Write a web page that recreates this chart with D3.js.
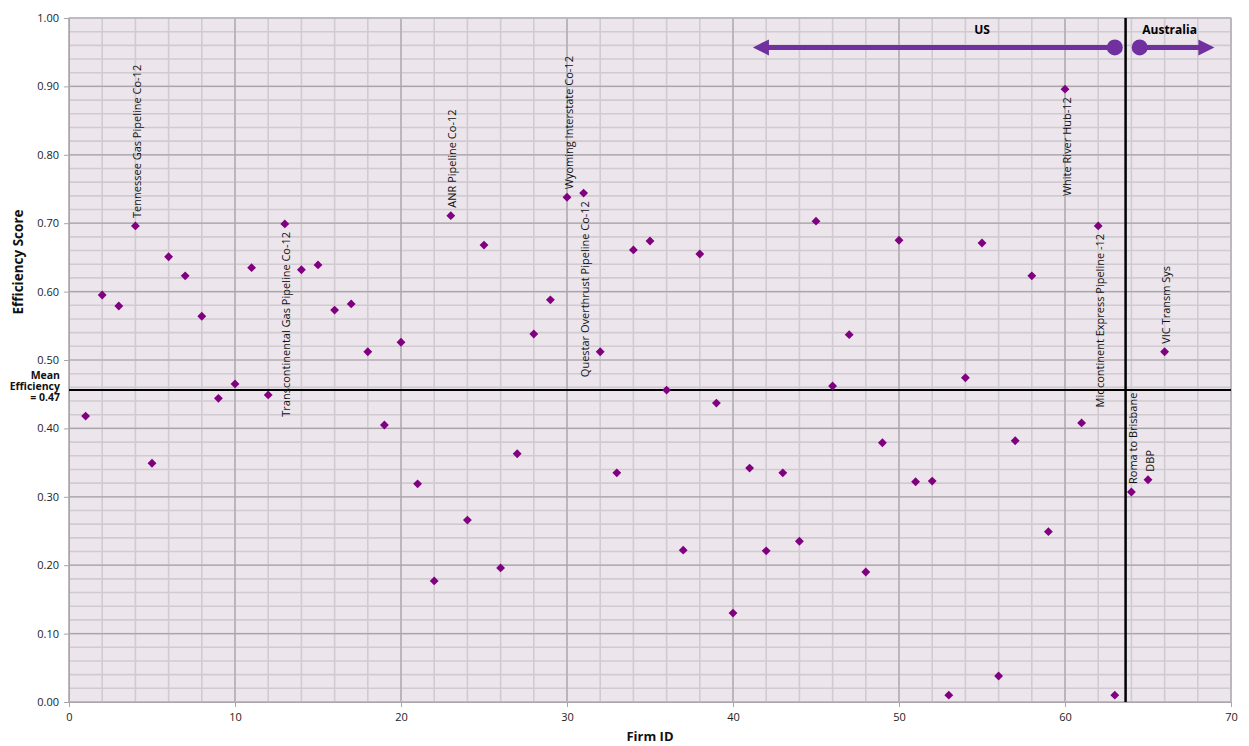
<!DOCTYPE html>
<html><head><meta charset="utf-8">
<script src="https://cdn.jsdelivr.net/npm/d3@7"></script>
<style>body{margin:0;background:#fff;} svg{display:block;font-family:"Open Sans",sans-serif;}</style>
</head><body>
<svg id="c" width="1249" height="746"></svg>
<script>
// ---- data ----
const firmIds = d3.range(1, 67);
const scores = [0.418,0.595,0.579,0.696,0.349,0.651,0.623,0.564,0.444,0.465,
  0.635,0.449,0.699,0.632,0.639,0.573,0.582,0.512,0.405,0.526,
  0.319,0.177,0.711,0.266,0.668,0.196,0.363,0.538,0.588,0.738,
  0.744,0.512,0.335,0.661,0.674,0.456,0.222,0.655,0.437,0.130,
  0.342,0.221,0.335,0.235,0.703,0.462,0.537,0.190,0.379,0.675,
  0.322,0.323,0.010,0.474,0.671,0.038,0.382,0.623,0.249,0.896,
  0.408,0.696,0.010,0.307,0.325,0.512];
const labelIds = [4,13,23,30,31,60,62,64,65,66];
const labelTexts = ["Tennessee Gas Pipeline Co-12","Transcontinental Gas Pipeline Co-12","ANR Pipeline Co-12",
  "Wyoming Interstate Co-12","Questar Overthrust Pipeline Co-12","White River Hub-12",
  "Midcontinent Express Pipeline -12","Roma to Brisbane","DBP","VIC Transm Sys"];
const labelSides = ["above","below","above","above","below","below","below","above","above","above"];
const xTicks = [0,10,20,30,40,50,60,70];
const yTicks = [0,0.1,0.2,0.3,0.4,0.5,0.6,0.7,0.8,0.9,1.0];
const meanEfficiency = 0.456;
const meanLabel = ["Mean","Efficiency","= 0.47"];
const splitX = 63.65;
const regionNames = ["US","Australia"];

// ---- layout ----
const svg = d3.select("#c");
const L = 69, T = 18, W = 1162, H = 684;
const x = d3.scaleLinear().domain([0,70]).range([L, L+W]);
const y = d3.scaleLinear().domain([0,1]).range([T+H, T]);

svg.append("rect").attr("x",L).attr("y",T).attr("width",W).attr("height",H).attr("fill","#ECE5EC");

const g = svg.append("g");
// minor grid
g.selectAll(".mx").data(d3.range(0,71,2)).join("line")
  .attr("x1",d=>x(d)).attr("x2",d=>x(d)).attr("y1",T).attr("y2",T+H)
  .attr("stroke","#CFCBD0").attr("stroke-width",1.6);
g.selectAll(".my").data(d3.range(0,51)).join("line")
  .attr("y1",d=>y(d/50)).attr("y2",d=>y(d/50)).attr("x1",L).attr("x2",L+W)
  .attr("stroke","#CFCBD0").attr("stroke-width",1.6);
// majors on top
g.selectAll(".Mx").data(xTicks).join("line")
  .attr("x1",d=>x(d)).attr("x2",d=>x(d)).attr("y1",T).attr("y2",T+H).attr("stroke","#A9A5AA").attr("stroke-width",1.2);
g.selectAll(".My").data(yTicks).join("line")
  .attr("y1",d=>y(d)).attr("y2",d=>y(d)).attr("x1",L).attr("x2",L+W).attr("stroke","#A9A5AA").attr("stroke-width",1.2);
svg.append("rect").attr("x",L).attr("y",T).attr("width",W).attr("height",H).attr("fill","none").attr("stroke","#BDBABE").attr("stroke-width",1.2);

// axes
const ya = svg.append("g").attr("transform",`translate(${L},0)`)
  .call(d3.axisLeft(y).tickValues(yTicks).tickFormat(d3.format(".2f")).tickSize(5).tickPadding(5));
const xa = svg.append("g").attr("transform",`translate(0,${T+H})`)
  .call(d3.axisBottom(x).tickValues(xTicks).tickFormat(d3.format("d")).tickSize(5).tickPadding(6));
[ya,xa].forEach(a=>{
  a.select(".domain").attr("stroke","#A9A5AA");
  a.selectAll(".tick line").attr("stroke","#A9A5AA");
  a.selectAll("text").attr("font-family","Open Sans").attr("font-size",11).attr("fill","#222");
});

// reference lines
svg.append("line").attr("x1",L).attr("x2",L+W).attr("y1",y(meanEfficiency)).attr("y2",y(meanEfficiency))
  .attr("stroke","#000").attr("stroke-width",2);
svg.append("line").attr("x1",x(splitX)).attr("x2",x(splitX)).attr("y1",T).attr("y2",T+H)
  .attr("stroke","#000").attr("stroke-width",2.5);

// mean label
svg.append("text").attr("text-anchor","end").attr("font-weight","bold").attr("font-size",10.5).attr("fill","#111")
  .selectAll("tspan").data(meanLabel).join("tspan")
  .attr("x",60).attr("y",(d,i)=>379+i*11).text(d=>d);

// points
const pts = firmIds.map((id,i)=>({id, v:scores[i]}));
svg.append("g").selectAll("path").data(pts).join("path")
  .attr("d", d3.symbol().type(d3.symbolDiamond2).size(50))
  .attr("transform", d=>`translate(${x(d.id)},${y(d.v)})`)
  .attr("fill","#800080");

// data labels
const labs = labelIds.map((id,i)=>({id, v:scores[id-1], t:labelTexts[i], side:labelSides[i]}));
svg.append("g").selectAll("text").data(labs).join("text")
  .attr("transform", d=>`translate(${x(d.id)+1},${y(d.v)+(d.side==="above"?-8:8)}) rotate(-90)`)
  .attr("text-anchor", d=>d.side==="above"?"start":"end")
  .attr("dominant-baseline","central")
  .attr("font-size",11).attr("fill","#111")
  .text(d=>d.t);

// region arrows
const arrowY = 0.957, col = "#7030A0";
const usStart = 63.0, usEnd = 41.2, auStart = 64.5, auEnd = 69.0;
svg.append("line").attr("x1",x(usStart)).attr("x2",x(usEnd)+12).attr("y1",y(arrowY)).attr("y2",y(arrowY))
  .attr("stroke",col).attr("stroke-width",5);
svg.append("circle").attr("cx",x(usStart)).attr("cy",y(arrowY)).attr("r",8).attr("fill",col);
svg.append("path").attr("d",`M${x(usEnd)},${y(arrowY)} l16,-8 l0,16 z`).attr("fill",col);
svg.append("line").attr("x1",x(auStart)).attr("x2",x(auEnd)-12).attr("y1",y(arrowY)).attr("y2",y(arrowY))
  .attr("stroke",col).attr("stroke-width",5);
svg.append("circle").attr("cx",x(auStart)).attr("cy",y(arrowY)).attr("r",8).attr("fill",col);
svg.append("path").attr("d",`M${x(auEnd)},${y(arrowY)} l-16,-8 l0,16 z`).attr("fill",col);
svg.append("text").attr("x",x(55)).attr("y",34).attr("text-anchor","middle").attr("font-weight","bold").attr("font-size",12).text(regionNames[0]);
svg.append("text").attr("x",x(66.3)).attr("y",34).attr("text-anchor","middle").attr("font-weight","bold").attr("font-size",12).text(regionNames[1]);

// axis titles
svg.append("text").attr("transform","translate(23,262) rotate(-90)").attr("text-anchor","middle")
  .attr("font-weight","bold").attr("font-size",13.5).attr("fill","#111").text("Efficiency Score");
svg.append("text").attr("x",650).attr("y",741).attr("text-anchor","middle")
  .attr("font-weight","bold").attr("font-size",13).attr("fill","#111").text("Firm ID");
</script>
</body></html>
